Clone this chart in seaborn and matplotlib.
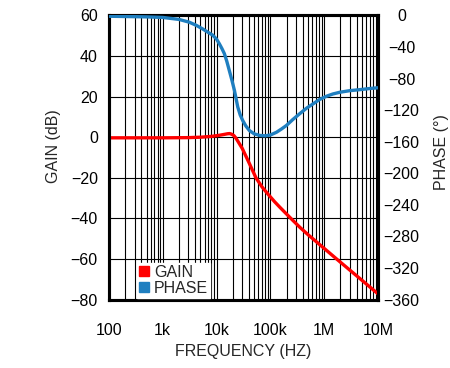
import matplotlib
matplotlib.use("Agg")
from matplotlib import ticker
from matplotlib.lines import Line2D
import matplotlib.pyplot as plt
import seaborn as sns
from pandas import DataFrame

# Gain curve (dB) vs frequency (Hz)
gain_freq = [100, 1e3, 3e3, 5e3, 8e3, 11e3, 14e3, 16e3, 17.5e3, 19e3, 21e3, 23e3,
             26e3, 30e3, 40e3, 54e3, 70e3, 90e3, 120e3, 150e3, 230e3, 350e3,
             500e3, 1e6, 1.7e6, 3e6, 5.3e6, 10e6]
gain_db = [-0.3, -0.3, -0.2, 0.0, 0.4, 0.9, 1.4, 1.7, 1.8, 1.5, 0.8, -0.5,
           -2.8, -5.5, -12.5, -20, -24.5, -28, -31.8, -34.5, -39.5, -44.3,
           -48, -54.8, -60, -65.5, -71, -77.2]

# Phase curve (degrees) vs frequency (Hz)
phase_freq = [100, 500, 1e3, 2e3, 3.1e3, 4.2e3, 5.5e3, 7e3, 8.5e3, 10e3, 11.3e3,
              12.6e3, 14e3, 15.5e3, 17.3e3, 19.3e3, 21.5e3, 24.8e3, 27.5e3,
              30.6e3, 35e3, 41e3, 50e3, 63e3, 80e3, 100e3, 130e3, 160e3, 198e3,
              260e3, 351e3, 470e3, 623e3, 820e3, 1.11e6, 1.45e6, 1.96e6, 3e6,
              4.6e6, 7e6, 10e6]
phase_deg = [-1, -1.8, -2.5, -5, -8.5, -12.5, -17, -21.5, -25, -30, -36,
             -42, -48.5, -58, -70, -82, -95, -116, -126,
             -133, -140, -146, -150, -152, -152.5, -151.5, -148, -144, -139.5,
             -132, -124.5, -117.5, -112, -106.5, -102.3, -99.5, -97.3, -95.3,
             -94, -92.6, -91.6]

x_ticks = [100, 1e3, 1e4, 1e5, 1e6, 1e7]
x_labels = ["100", "1k", "10k", "100k", "1M", "10M"]

RED = "#ff0000"
BLUE = "#1f7fc0"

sns.set_style("white")
plt.rcParams["font.family"] = ["Liberation Sans", "DejaVu Sans"]
FS = 11.5

fig, ax = plt.subplots(figsize=(4.5, 3.68), dpi=100)
fig.subplots_adjust(left=0.242, right=0.84, top=0.958, bottom=0.186)
ax2 = ax.twinx()

sns.lineplot(data=DataFrame({"f": gain_freq, "g": gain_db}), x="f", y="g",
             ax=ax, color=RED, linewidth=2.4, zorder=5,
             solid_joinstyle="round", solid_capstyle="round")
sns.lineplot(data=DataFrame({"f": phase_freq, "p": phase_deg}), x="f", y="p",
             ax=ax2, color=BLUE, linewidth=2.4, zorder=5,
             solid_joinstyle="round", solid_capstyle="round")

ax.set_xscale("log")
ax.set_xlim(100, 1e7)
ax.set_ylim(-80, 60)
ax2.set_ylim(-360, 0)
ax.set_yticks(range(-80, 61, 20))
ax2.set_yticks(range(-360, 1, 40))
ax.set_xticks(x_ticks)
ax.set_xticklabels(x_labels)
ax.xaxis.set_minor_locator(ticker.LogLocator(base=10, subs=range(2, 10), numticks=20))
ax.xaxis.set_minor_formatter(ticker.NullFormatter())

ax.grid(True, which="both", axis="x", color="black", linewidth=0.8)
ax.grid(True, which="major", axis="y", color="black", linewidth=0.8)

for a in (ax, ax2):
    a.tick_params(which="both", length=0, labelsize=FS, colors="black")
    for s in a.spines.values():
        s.set_color("black")
        s.set_linewidth(2.2)
ax.tick_params(axis="x", pad=17)
ax.tick_params(axis="y", pad=8)
ax2.tick_params(axis="y", pad=17)
for lbl in ax2.get_yticklabels():
    lbl.set_horizontalalignment("center")

ax.set_xlabel("FREQUENCY (HZ)", fontsize=FS, labelpad=4)
ax.set_ylabel("GAIN (dB)", fontsize=FS)
ax2.set_ylabel("PHASE (°)", fontsize=FS)
ax.yaxis.set_label_coords(-0.178, 0.54)
ax2.yaxis.set_label_coords(1.209, 0.52)

handles = [
    Line2D([], [], marker="s", linestyle="none", markersize=7, color=RED, label="GAIN"),
    Line2D([], [], marker="s", linestyle="none", markersize=7, color=BLUE, label="PHASE"),
]
leg = ax2.legend(handles=handles, loc="lower left", bbox_to_anchor=(0.105, 0.005),
                 frameon=True, fancybox=False, framealpha=1, edgecolor="white",
                 fontsize=FS, handlelength=0.6, handletextpad=0.3,
                 borderpad=0.15, labelspacing=0.05, borderaxespad=0)

fig.savefig("out.png", dpi=100)
